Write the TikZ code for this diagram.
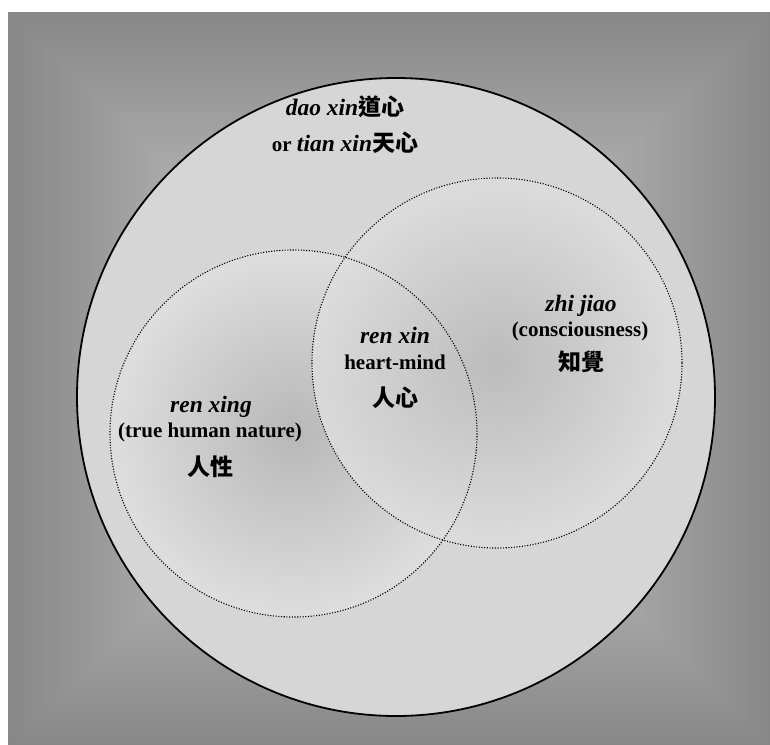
\documentclass[tikz,border=0pt]{standalone}
\usepackage{fontspec}
\setmainfont{Liberation Serif}
\newfontfamily\cjk{Noto Sans CJK TC}
\definecolor{bigfill}{gray}{0.84}
\definecolor{smallin}{gray}{0.72}
\definecolor{smallout}{gray}{0.87}
\pgfdeclarefunctionalshading{bgshade}{\pgfpoint{-381pt}{-366.5pt}}{\pgfpoint{381pt}{366.5pt}}{}{
  365.2 div abs exch 379.6 div abs 2 copy lt {exch} if pop 0.32 mul neg 0.85 add dup dup}
\newcommand\italtxt[1]{{\fontsize{23.5}{26}\selectfont\bfseries\itshape #1}}
\newcommand\hanzi[1]{{\cjk\bfseries\fontsize{23}{26}\selectfont #1}}
\newcommand\hanziR[1]{{\cjk\fontsize{23}{26}\selectfont #1}}
\begin{document}
\begin{tikzpicture}[x=1pt,y=-1pt,
  lbl/.style={inner sep=0pt, font=\fontsize{21}{24}\selectfont\bfseries},
  bigcircle/.style={draw=black, line width=1.8pt, fill=bigfill},
  setcircle/.style={inner color=smallin, outer color=smallout},
  setedge/.style={draw=black, line width=1.1pt, dash pattern=on 1.1pt off 1.6pt}]
\useasboundingbox (0,0) rectangle (770,744);
\fill[white] (0,0) rectangle (770,744);
% background with rectangular gradient
\node[inner sep=0pt, outer sep=0pt] (bg) at (389,377.5) {\pgfuseshading{bgshade}};
% circles
\path[bigcircle] (396,397) circle (319);
\shade[setcircle] (293.5,433.5) circle (183.5);
\shade[setcircle, opacity=0.85] (497,363) circle (185);
\draw[setedge] (293.5,433.5) circle (183.5);
\draw[setedge] (497,363) circle (185);
% labels
\node[lbl, anchor=base] (dao) at (345,115) {\italtxt{dao xin}\hanzi{道心}};
\node[lbl, anchor=base] (tian) at (345,151.7) {or \italtxt{tian xin}\hanzi{天心}};
\node[lbl, anchor=base] (renxing) at (211,412.7) {\italtxt{ren xing}};
\node[lbl, anchor=base] (nature) at (210,437.3) {(true human nature)};
\node[lbl] (renxingzh) at (210,467) {\hanzi{人性}};
\node[lbl, anchor=base] (renxin) at (395,343.3) {\italtxt{ren xin}};
\node[lbl, anchor=base] (heart) at (395,369.3) {heart-mind};
\node[lbl] (renxinzh) at (395,398) {\hanziR{人心}};
\node[lbl, anchor=base] (zhijiao) at (581,311.7) {\italtxt{zhi jiao}};
\node[lbl, anchor=base] (consc) at (580,336) {(consciousness)};
\node[lbl] (zhijiaozh) at (581,362) {\hanzi{知覺}};
\end{tikzpicture}
\end{document}
